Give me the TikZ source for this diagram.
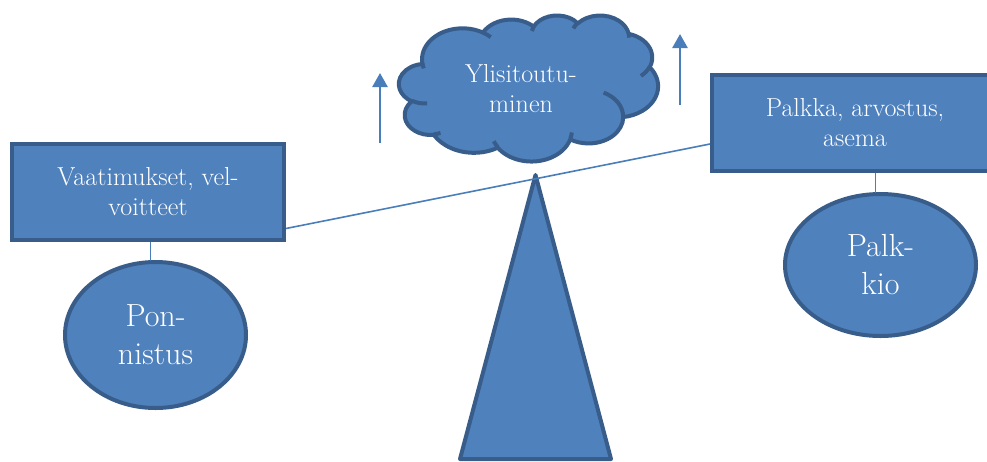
\documentclass[tikz,border=0pt]{standalone}
\usepackage{fontspec}
\usetikzlibrary{shapes.geometric,calc,arrows.meta}
\definecolor{boxfill}{HTML}{4F81BD}
\definecolor{boxline}{HTML}{385D8A}
\definecolor{linkline}{HTML}{4A7EBB}
% one lobe of the cloud outline: x radius, y radius, start angle, sweep
% (angles are true angles on the ellipse, turned into parametric ones)
\newcommand\puff[4]{arc[x radius=#1, y radius=#2,
  start angle={atan2(#1*sin(#3),#2*cos(#3))},
  delta angle={mod(atan2(#1*sin(#3+#4),#2*cos(#3+#4))-atan2(#1*sin(#3),#2*cos(#3))+720,360)}]}
\begin{document}
\begin{tikzpicture}[x=1pt,y=-1pt,
  shapebox/.style={draw=boxline, fill=boxfill, line width=4pt, text=white, align=center},
  labelbox/.style={shapebox, rectangle, minimum height=96pt, inner sep=0pt,
    font=\rmfamily\fontsize{26}{30}\selectfont},
  bigoval/.style={shapebox, ellipse, inner sep=0pt, font=\rmfamily\fontsize{32}{38}\selectfont},
  cloudline/.style={draw=boxline, line width=4pt, line join=round},
  link/.style={draw=linkline, line width=1.6pt},
  rise/.style={draw=linkline, line width=2.6pt, -{Triangle[width=15pt,length=14pt]}}]
\useasboundingbox (0,0) rectangle (987,461);
\clip (0,0) rectangle (987,461);

% fulcrum
\draw[boxline, fill=boxfill, line width=4pt, line join=round]
  (535.5,175) -- (611,459) -- (460,459) -- cycle;

% labelled boxes on the beam
\node[labelbox, minimum width=272pt] (leftbox) at (148,192) {Vaatimukset, vel-\\voitteet};
\node[labelbox, minimum width=286pt] (rightbox) at (855,123) {Palkka, arvostus,\\asema};

% weights hanging below the boxes
\node[bigoval, minimum width=181pt, minimum height=146pt] (leftell) at (155.5,335) {Pon-\\nistus};
\node[bigoval, minimum width=191pt, minimum height=142pt] (rightell) at (880.5,265) {Palk-\\kio};

\draw[link] ($(leftell.north)+(-5,1)$) -- ($(leftell.north |- leftbox.south)+(-5,0)$);
\draw[link] ($(rightell.north)+(-5,1)$) -- ($(rightell.north |- rightbox.south)+(-5,0)$);

% cloud above the fulcrum, drawn in a 432 x 432 frame
\begin{scope}[shift={(399,15)}, x=0.59954pt, y=-0.33796pt]
  \path[cloudline, fill=boxfill] (39.00,143.70)
    \puff{67.53}{91.90}{-190.4875}{123.7805}
    \puff{53.33}{72.67}{-144.1024}{89.9452}
    \puff{43.65}{59.45}{-145.8079}{99.7230}
    \puff{48.57}{65.95}{-130.9861}{117.2417}
    \puff{53.33}{72.73}{-78.7089}{109.0269}
    \puff{67.75}{92.20}{-46.2673}{130.2690}
    \puff{57.85}{78.67}{0.6250}{114.0333}
    \puff{67.52}{92.15}{22.4516}{115.1726}
    \puff{77.20}{105.43}{66.2426}{75.7110}
    \puff{43.60}{59.18}{-274.9421}{146.7356}
    \puff{43.45}{59.45}{-246.8285}{152.5189}
    -- cycle;
  % creases between the lobes
  \draw[cloudline]
    (46.93,261.77) \puff{43.45}{59.45}{86.7420}{26.4295}
    (69.28,348.99) \puff{43.60}{59.18}{73.6105}{11.4475}
    (164.78,390.90) \puff{67.52}{92.15}{137.6242}{14.0811}
    (288.27,347.51) \puff{67.52}{92.15}{6.4533}{15.9984}
    (341.29,229.54) \puff{57.85}{78.67}{-70.2924}{70.9174}
    (417.98,153.54) \puff{53.33}{72.73}{30.3180}{27.7515}
    (383.24,54.26) \puff{48.57}{65.95}{-13.7443}{14.8589}
    (290.78,39.52) \puff{48.57}{65.95}{-149.1815}{18.1954}
    (221.41,47.20) \puff{43.65}{59.45}{-163.4943}{17.6864}
    (140.00,51.92) \puff{67.53}{91.90}{-66.7070}{12.3194}
    (41.27,157.89) \puff{67.53}{91.90}{157.6544}{11.8582};
\end{scope}
\node[text=white, align=center, font=\rmfamily\fontsize{26}{30}\selectfont]
  (cloudtext) at (521,89) {Ylisitoutu-\\minen};

% upward arrows beside the cloud
\coordinate (riseLa) at (380,143);
\coordinate (riseLb) at (380,73);
\coordinate (riseRa) at (680,105);
\coordinate (riseRb) at (680,34);
\draw[rise] (riseLa) -- (riseLb);
\draw[rise] (riseRa) -- (riseRb);

% beam across the fulcrum
\draw[link] ($(leftbox.south east)!0.135!(leftbox.north east)$)
  -- ($(rightbox.south west)!0.29!(rightbox.north west)$);
\end{tikzpicture}
\end{document}
